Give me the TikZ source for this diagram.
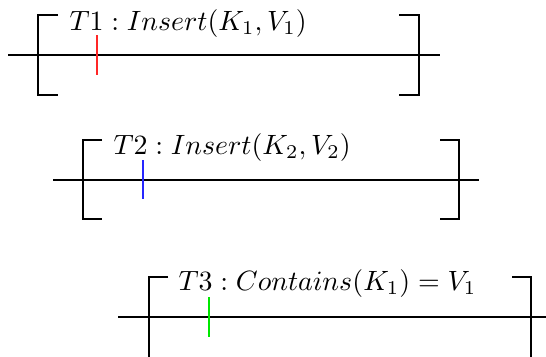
\documentclass[tikz,border=0pt]{standalone}
\begin{document}
\begin{tikzpicture}[x=1pt,y=-1pt,
  rail/.style={line width=2pt,black},
  brk/.style={line width=2pt,black},
  tick/.style={line width=1.6pt},
  lbl/.style={anchor=base west,inner sep=0pt,font=\normalsize,scale=2.79}]
\useasboundingbox (0,0) rectangle (546,356);
\clip (0,0) rectangle (546,356);
% panel 1
\begin{scope}[shift={(38,55)}]
  \draw[rail] (-30,0) -- (402,0);
  \draw[brk] (20,-40) -- (0,-40) -- (0,40) -- (20,40);
  \draw[brk] (361,-40) -- (381,-40) -- (381,40) -- (361,40);
  \draw[tick,red!85!white] (59,-20) -- (59,20);
  \node[lbl] (t1) at (31,-25) {$T1 : Insert(K_1, V_1)$};
\end{scope}
% panel 2
\begin{scope}[shift={(83,180)}]
  \draw[rail] (-30,0) -- (396,0);
  \draw[brk] (19,-40) -- (0,-40) -- (0,39) -- (19,39);
  \draw[brk] (357,-40) -- (376,-40) -- (376,39) -- (357,39);
  \draw[tick,blue!85!white] (60,-20) -- (60,19);
  \node[lbl] (t2) at (30,-26) {$T2 : Insert(K_2, V_2)$};
\end{scope}
% panel 3
\begin{scope}[shift={(149,317)}]
  \draw[rail] (-31,0) -- (420,0);
  \draw[brk] (19,-40) -- (0,-40) -- (0,60);
  \draw[brk] (363,-40) -- (382,-40) -- (382,60);
  \draw[tick,green!85!black!60!green] (60,-20) -- (60,20);
  \node[lbl] (t3) at (29,-27) {$T3 : Contains(K_1) = V_1$};
\end{scope}
\end{tikzpicture}
\end{document}
